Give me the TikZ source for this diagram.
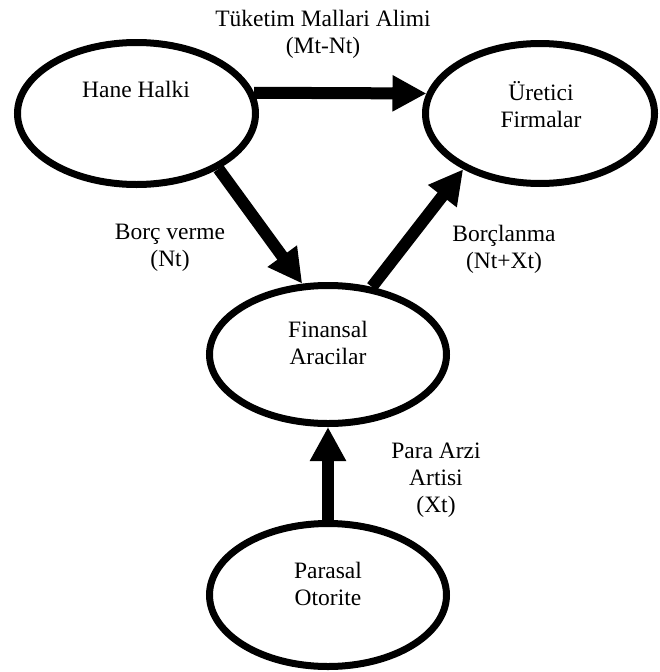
\documentclass[tikz,border=0pt]{standalone}
\usepackage{fontspec}
\setmainfont{Liberation Serif}
\usetikzlibrary{shapes.geometric,arrows.meta}

\begin{document}
\begin{tikzpicture}[x=1pt,y=-1pt,
	blob/.style={draw,ellipse,line width=7pt,inner sep=0pt},
	txt/.style={align=center,inner sep=0pt,font=\fontsize{23.5}{27}\selectfont},
	flow/.style={line width=12pt,-{Triangle[length=34pt,width=34pt]}}]
	\useasboundingbox (0,0) rectangle (659,672);
	
	\node (hane) at (136.5,113.5)[blob,minimum width=238pt,minimum height=142pt]{};
	\node (uretici) at (540,113.5)[blob,minimum width=229pt,minimum height=140pt]{};
	\node (finansal) at (328,354.5)[blob,minimum width=237pt,minimum height=138pt]{};
	\node (parasal) at (328,595)[blob,minimum width=237pt,minimum height=143pt]{};
	
	\node (haneT) at (136,89)[txt]{Hane Halki};
	\node (ureticiT) at (541,105)[txt]{Üretici\\Firmalar};
	\node (finansalT) at (328,343)[txt]{Finansal\\Aracilar};
	\node (parasalT) at (328,584)[txt]{Parasal\\Otorite};
	
	\node (tuketimT) at (323,34)[txt]{Tüketim Mallari Alimi\\(Mt-Nt)};
	\node (borcT) at (170,248)[txt]{Borç verme\\(Nt)};
	\node (borclanmaT) at (504,249)[txt]{Borçlanma\\(Nt+Xt)};
	\node (paraT) at (436,480)[txt]{Para Arzi\\Artisi\\(Xt)};
	
	\draw[flow] (hane.10) -- (uretici.170);
	\draw[flow] (hane.-34) -- (finansal.110);
	\draw[flow] (finansal.57) -- (uretici.216);
	\draw[flow] (parasal.north) -- (finansal.south);
\end{tikzpicture}
\end{document}
